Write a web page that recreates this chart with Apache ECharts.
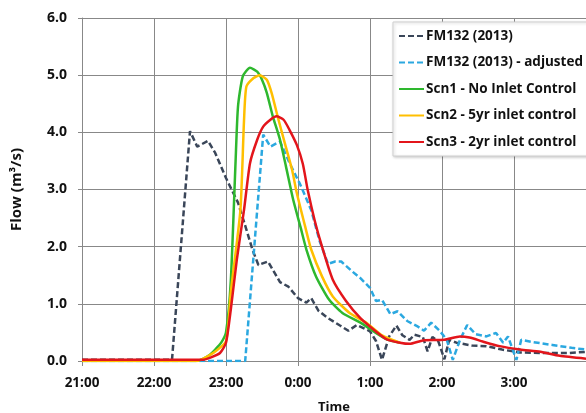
<!DOCTYPE html>
<html>
<head>
<meta charset="utf-8">
<script src="https://cdn.jsdelivr.net/npm/echarts@6/dist/echarts.min.js"></script>
<style>
  html, body { margin: 0; padding: 0; background: #fff; }
  #chart { width: 586px; height: 413px; }
</style>
</head>
<body>
<div id="chart"></div>
<script>
// minutes after 21:00
const hourLabels = ['21:00', '22:00', '23:00', '0:00', '1:00', '2:00', '3:00', ''];

const fmTime = [0, 75, 90, 96, 105, 111, 120, 130, 137, 142, 147, 155, 165, 172, 180, 187, 191, 197, 205, 215, 222, 229, 240, 245, 250, 256, 262, 267, 273, 277, 284, 288, 292, 297, 302, 306, 312, 325, 337, 350, 365, 385, 405, 420];
const fmFlow = [0.02, 0.02, 4.02, 3.75, 3.85, 3.64, 3.2, 2.77, 2.3, 1.95, 1.68, 1.74, 1.38, 1.3, 1.1, 1.02, 1.1, 0.88, 0.75, 0.62, 0.53, 0.63, 0.52, 0.35, 0.02, 0.43, 0.62, 0.45, 0.37, 0.46, 0.42, 0.17, 0.42, 0.34, 0.03, 0.37, 0.32, 0.27, 0.26, 0.2, 0.15, 0.14, 0.14, 0.16];

const adjTime = [0, 136, 151, 157, 165, 173, 182, 191, 198, 205, 211, 216, 225, 232, 240, 245, 250, 257, 263, 271, 280, 285, 291, 298, 304, 309, 315, 321, 328, 337, 345, 351, 355, 362, 366, 376, 392, 408, 420];
const adjFlow = [0, 0, 3.96, 3.75, 3.84, 3.46, 3.08, 2.64, 2.1, 1.7, 1.74, 1.74, 1.57, 1.45, 1.28, 1.05, 1.07, 0.82, 0.87, 0.7, 0.6, 0.53, 0.67, 0.53, 0.37, 0.02, 0.37, 0.63, 0.47, 0.43, 0.49, 0.32, 0.43, 0.02, 0.37, 0.33, 0.28, 0.23, 0.2];

const scn1Time = [0, 95, 100, 106, 111, 116, 120, 124, 128, 130, 134, 140, 146, 150, 154, 159, 165, 170, 176, 182, 187, 195, 206, 217, 232, 245, 254, 265];
const scn1Flow = [0, 0, 0.03, 0.1, 0.2, 0.32, 0.5, 1.4, 3.5, 4.45, 4.98, 5.13, 5.06, 4.92, 4.69, 4.28, 3.87, 3.4, 2.82, 2.35, 1.95, 1.48, 1.07, 0.84, 0.67, 0.49, 0.38, 0.32];

const scn2Time = [0, 95, 110, 120, 124, 132, 135, 137, 143, 148, 154, 158, 163, 169, 175, 179, 186, 191, 200, 209, 223, 237, 250, 265];
const scn2Flow = [0, 0, 0.15, 0.35, 1.2, 2.64, 4.2, 4.8, 4.95, 5.0, 4.92, 4.69, 4.28, 3.81, 3.35, 2.94, 2.35, 1.95, 1.48, 1.13, 0.84, 0.67, 0.45, 0.32];

const scn3Time = [0, 100, 107, 115, 120, 124, 129, 135, 140, 146, 151, 157, 162, 168, 173, 179, 184, 188, 194, 200, 209, 220, 232, 246, 254, 265, 273, 284, 302, 315, 323, 334, 348, 365, 382, 398, 420];
const scn3Flow = [0.02, 0.02, 0.06, 0.14, 0.32, 0.9, 1.77, 2.64, 3.46, 3.87, 4.1, 4.22, 4.28, 4.22, 4.04, 3.78, 3.45, 3.0, 2.45, 2.0, 1.42, 1.05, 0.75, 0.5, 0.38, 0.32, 0.3, 0.36, 0.37, 0.43, 0.41, 0.34, 0.26, 0.2, 0.16, 0.09, 0.04];

const zip = (t, v) => t.map((x, i) => [x, v[i]]);

const font = "'Open Sans', Lato, sans-serif";
const chart = echarts.init(document.getElementById('chart'));

chart.setOption({
  animation: false,
  grid: { left: 82, right: 0, top: 18, bottom: 52, containLabel: false, outerBoundsMode: 'none' },
  legend: {
    orient: 'vertical',
    left: 393,
    top: 22,
    padding: [7, 20, 7, 5],
    itemWidth: 25,
    itemHeight: 14,
    itemGap: 12.5,
    itemStyle: { opacity: 0 },
    backgroundColor: '#fff',
    borderColor: '#d0d0d0',
    borderWidth: 1,
    shadowColor: 'rgba(0,0,0,0.2)',
    shadowBlur: 3,
    shadowOffsetX: 1,
    shadowOffsetY: 1,
    textStyle: { fontFamily: font, fontWeight: 'bold', fontSize: 13.5, color: '#111', padding: [0, 0, 0, -3] }
  },
  xAxis: {
    type: 'value',
    min: 0,
    max: 420,
    interval: 60,
    name: 'Time',
    nameLocation: 'middle',
    nameGap: 40,
    nameTextStyle: { fontFamily: font, fontWeight: 'bold', fontSize: 13, color: '#111' },
    axisLine: { lineStyle: { color: '#888', width: 1 } },
    axisTick: { show: true, length: 5, lineStyle: { color: '#888' } },
    splitLine: { show: true, lineStyle: { color: '#888', width: 1 } },
    axisLabel: {
      margin: 15,
      fontFamily: font, fontWeight: 'bold', fontSize: 13.5, color: '#111',
      formatter: v => hourLabels[Math.round(v / 60)]
    }
  },
  yAxis: {
    type: 'value',
    min: 0,
    max: 6,
    interval: 1,
    name: 'Flow (m³/s)',
    nameLocation: 'middle',
    nameRotate: 90,
    nameGap: 58,
    nameTextStyle: { fontFamily: font, fontWeight: 'bold', fontSize: 15, color: '#111' },
    axisLine: { show: true, lineStyle: { color: '#888', width: 1 } },
    axisTick: { show: true, length: 4, lineStyle: { color: '#888' } },
    splitLine: { show: true, lineStyle: { color: '#888', width: 1 } },
    axisLabel: {
      margin: 15,
      fontFamily: font, fontWeight: 'bold', fontSize: 14, color: '#111',
      formatter: v => v.toFixed(1)
    }
  },
  series: [
    {
      name: 'FM132 (2013)', type: 'line', data: zip(fmTime, fmFlow), symbol: 'none',
      lineStyle: { color: '#3a4659', width: 2.5, type: [6, 3] }, itemStyle: { color: '#3a4659' }
    },
    {
      name: 'FM132 (2013) - adjusted', type: 'line', data: zip(adjTime, adjFlow), symbol: 'none',
      lineStyle: { color: '#2ba8e0', width: 2.5, type: [6, 3] }, itemStyle: { color: '#2ba8e0' }
    },
    {
      name: 'Scn1 - No Inlet Control', type: 'line', data: zip(scn1Time, scn1Flow), symbol: 'none',
      smooth: 0.2, lineStyle: { color: '#2eb82e', width: 2.5 }, itemStyle: { color: '#2eb82e' }
    },
    {
      name: 'Scn2 - 5yr inlet control', type: 'line', data: zip(scn2Time, scn2Flow), symbol: 'none',
      smooth: 0.2, lineStyle: { color: '#ffbf00', width: 2.5 }, itemStyle: { color: '#ffbf00' }
    },
    {
      name: 'Scn3 - 2yr inlet control', type: 'line', data: zip(scn3Time, scn3Flow), symbol: 'none',
      smooth: 0.2, lineStyle: { color: '#e3151b', width: 2.5 }, itemStyle: { color: '#e3151b' }
    }
  ]
});
</script>
</body>
</html>
